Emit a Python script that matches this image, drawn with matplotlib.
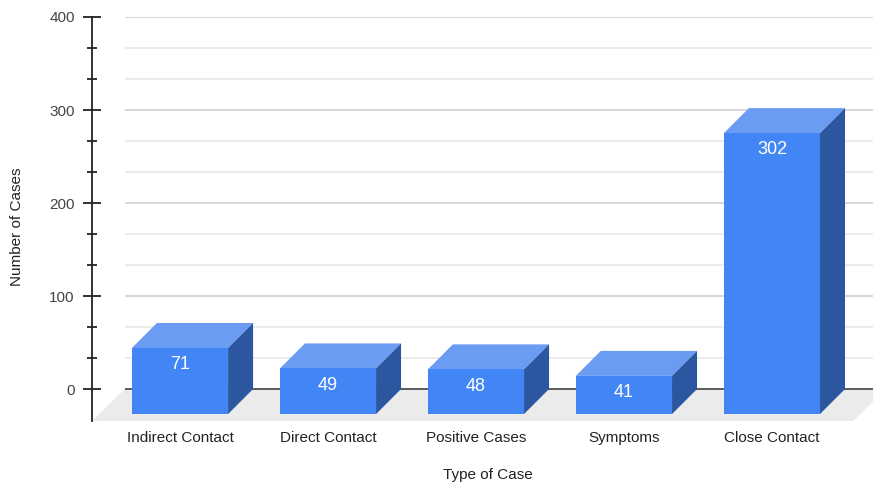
import matplotlib
matplotlib.use("Agg")
import matplotlib.pyplot as plt
from matplotlib.patches import Polygon
import numpy as np

plt.rcParams['font.family'] = ['Liberation Sans', 'DejaVu Sans']

categories = ["Indirect Contact", "Direct Contact", "Positive Cases", "Symptoms", "Close Contact"]
cases = [71, 49, 48, 41, 302]

# fake 3d look, offsets in data units
BAR_W = 0.65
DEPTH_X = 0.169
DEPTH_Y = 26.9
FLOOR_X = 0.223
FLOOR_Y = 34.4

FRONT = "#4285f4"
TOP = "#6a9cf4"
SIDE = "#2c56a0"

fig = plt.figure(figsize=(8.73, 4.87), dpi=100)
ax = fig.add_axes([92 / 873, 66 / 487, 781 / 873, 404 / 487])
ax.set_xlim(-0.7635, 4.514)
ax.set_ylim(-FLOOR_Y, 400)

x0, x1 = ax.get_xlim()

# floor
floor = Polygon([(x0, -FLOOR_Y), (4.378, -FLOOR_Y), (4.378 + FLOOR_X, 0), (x0 + FLOOR_X, 0)],
                closed=True, facecolor="#ebebeb", edgecolor="none", zorder=1)
ax.add_patch(floor)

# gridlines
for g in np.arange(1, 13) * 100 / 3:
    major = abs(g / 100 - round(g / 100)) < 1e-6
    ax.hlines(g, x0 + FLOOR_X, x1, color="#cccccc" if major else "#e6e6e6", lw=1.1, zorder=2)
ax.hlines(0, x0 + FLOOR_X, x1, color="#333333", lw=1.1, zorder=2)

for i, v in enumerate(cases):
    bl, br = i - BAR_W / 2, i + BAR_W / 2
    fl, fr = bl - DEPTH_X, br - DEPTH_X
    fb, ft = -DEPTH_Y, v - DEPTH_Y
    ax.add_patch(Polygon([(fl, ft), (fr, ft), (br, v), (bl, v)], closed=True,
                         facecolor=TOP, edgecolor="none", zorder=3))
    ax.add_patch(Polygon([(fr, ft), (br, v), (br, 0), (fr, fb)], closed=True,
                         facecolor=SIDE, edgecolor="none", zorder=3))
    ax.add_patch(Polygon([(fl, fb), (fr, fb), (fr, ft), (fl, ft)], closed=True,
                         facecolor=FRONT, edgecolor="none", zorder=4))
    ax.text(i - DEPTH_X, ft - 18, str(v), ha="center", va="center",
            color="white", fontsize=13, zorder=5)

for s in ["top", "right", "bottom"]:
    ax.spines[s].set_visible(False)
ax.spines["left"].set_color("#222222")
ax.spines["left"].set_linewidth(1.3)

ax.set_yticks([0, 100, 200, 300, 400])
ax.set_yticks([g for g in np.arange(1, 12) * 100 / 3 if g % 100 > 1e-6 and 100 - g % 100 > 1e-6], minor=True)
ax.tick_params(axis="y", which="major", direction="inout", length=13, width=1.3,
               color="#222222", labelsize=11, labelcolor="#444444", pad=6)
ax.tick_params(axis="y", which="minor", direction="inout", length=6.5, width=1.3, color="#222222")

ax.set_xticks([i - DEPTH_X for i in range(len(categories))])
ax.set_xticklabels(categories)
ax.tick_params(axis="x", length=0, labelsize=11, labelcolor="#222222", pad=7)

ax.set_xlabel("Type of Case", fontsize=11, color="#222222")
ax.xaxis.set_label_coords((488 - 92) / 781, -(475 - 421) / 404)
ax.xaxis.label.set_va("center")
ax.set_ylabel("Number of Cases", fontsize=11, color="#222222")
ax.yaxis.set_label_coords(-(92 - 17) / 781, (421 - 227) / 404)
ax.yaxis.label.set_va("center")

fig.savefig("out.png", dpi=100)
